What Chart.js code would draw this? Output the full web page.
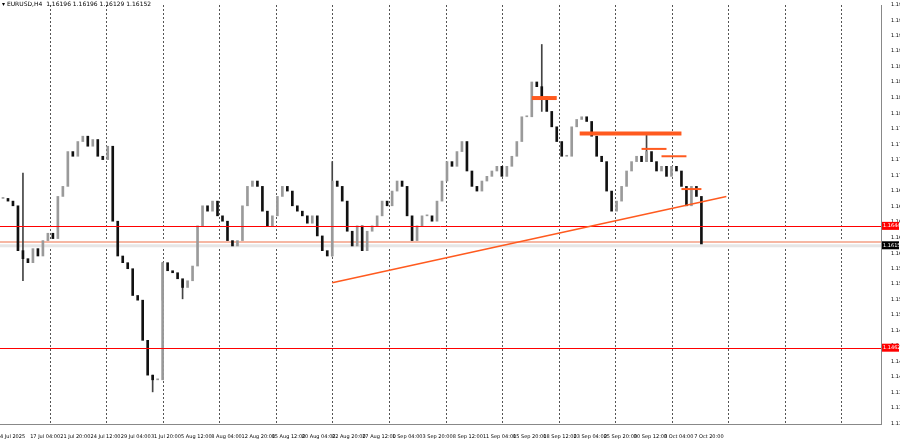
<!DOCTYPE html>
<html>
<head>
<meta charset="utf-8">
<script src="https://cdn.jsdelivr.net/npm/chart.js@4.4.1/dist/chart.umd.min.js"></script>
<style>
  html, body { margin: 0; padding: 0; background: #fff; }
  #wrap { position: relative; width: 900px; height: 441px; }
</style>
</head>
<body>
<div id="wrap"><canvas id="priceChart" width="900" height="441"></canvas></div>
<script>
// EURUSD H4 closes, sampled roughly every two bars
const closes = [
  1.1685, 1.1681, 1.1674, 1.1607, 1.1595, 1.1589, 1.1610, 1.1599, 1.1622, 1.1633,
  1.1625, 1.1688, 1.1703, 1.1755, 1.1748, 1.1770, 1.1778, 1.1763, 1.1773, 1.1748,
  1.1743, 1.1763, 1.1651, 1.1599, 1.1589, 1.1580, 1.1540, 1.1533, 1.1473, 1.1421,
  1.1414, 1.1414, 1.1589, 1.1577, 1.1574, 1.1565, 1.1552, 1.1562, 1.1584, 1.1644,
  1.1674, 1.1666, 1.1681, 1.1659, 1.1651, 1.1622, 1.1614, 1.1622, 1.1674, 1.1703,
  1.1711, 1.1703, 1.1666, 1.1644, 1.1659, 1.1688, 1.1703, 1.1696, 1.1674, 1.1666,
  1.1659, 1.1648, 1.1659, 1.1629, 1.1607, 1.1599, 1.1711, 1.1703, 1.1681, 1.1636,
  1.1614, 1.1644, 1.1607, 1.1636, 1.1644, 1.1659, 1.1681, 1.1674, 1.1696, 1.1711,
  1.1703, 1.1659, 1.1622, 1.1644, 1.1659, 1.1659, 1.1651, 1.1681, 1.1711, 1.1740,
  1.1733, 1.1755, 1.1770, 1.1726, 1.1703, 1.1696, 1.1711, 1.1718, 1.1726, 1.1733,
  1.1718, 1.1733, 1.1748, 1.1770, 1.1807, 1.1807, 1.1859, 1.1852, 1.1837, 1.1815,
  1.1792, 1.1770, 1.1748, 1.1748, 1.1792, 1.1803, 1.1807, 1.1800, 1.1778, 1.1748,
  1.1740, 1.1696, 1.1666, 1.1681, 1.1703, 1.1726, 1.1740, 1.1748, 1.1740, 1.1755,
  1.1740, 1.1726, 1.1733, 1.1718, 1.1733, 1.1726, 1.1703, 1.1674, 1.1703, 1.1688,
  1.1617
];

// notable wicks: [candle index, low, high]
const spikes = [
  [4, 1.1562, 1.1723], [30, 1.1396, 1.1421], [32, 1.1533, 1.1589], [36, 1.1535, 1.1562],
  [66, 1.1599, 1.1740], [108, 1.1815, 1.1915], [129, 1.1740, 1.1782]
];

const priceTicks = [1.1974, 1.1951, 1.1928, 1.1905, 1.1882, 1.1859, 1.1835, 1.1812, 1.1789,
  1.1766, 1.1743, 1.1719, 1.1696, 1.1673, 1.1650, 1.1627, 1.1603, 1.1580, 1.1557, 1.1534,
  1.1511, 1.1488, 1.1465, 1.1441, 1.1418, 1.1395, 1.1372, 1.1348];

const dateLabels = ["4 Jul 2025", "17 Jul 04:00", "21 Jul 20:00", "24 Jul 12:00", "29 Jul 04:00",
  "31 Jul 20:00", "5 Aug 12:00", "8 Aug 04:00", "12 Aug 20:00", "15 Aug 12:00", "20 Aug 04:00",
  "22 Aug 20:00", "27 Aug 12:00", "1 Sep 04:00", "3 Sep 20:00", "8 Sep 12:00", "11 Sep 04:00",
  "15 Sep 20:00", "18 Sep 12:00", "23 Sep 04:00", "25 Sep 20:00", "30 Sep 12:00", "3 Oct 04:00",
  "7 Oct 20:00"];

const levels = [1.1644, 1.1462];
const lastPrice = 1.1615;
const trendLine = [[66, 1.1559], [145, 1.1688]];
const resistanceMarks = [
  [[106, 1.1835], [111, 1.1835]],
  [[115.6, 1.1782], [136, 1.1782]],
  [[128, 1.1759], [133, 1.1759]],
  [[132, 1.1748], [137, 1.1748]],
  [[136, 1.1699], [140, 1.1699]]
];

// build candle bodies: open = previous close
const bodies = closes.map((c, i) => ({ x: i, y: [i === 0 ? c : closes[i - 1], c] }));
const bodyColors = closes.map((c, i) => (i > 0 && c < closes[i - 1]) ? "#111" : "#9a9a9a");
const wicks = spikes.map(s => ({ x: s[0], y: [s[1], s[2]] }));

const overlay = {
  id: "overlay",
  beforeDatasetsDraw(chart) {
    const { ctx, chartArea: a, scales: { x, y } } = chart;
    ctx.save();
    // weekly dashed separators
    ctx.strokeStyle = "#555";
    ctx.lineWidth = 1;
    ctx.setLineDash([2, 2]);
    for (let i = 9.4; i < 176; i += 11.33) {
      const px = Math.round(x.getPixelForValue(i)) + 0.5;
      ctx.beginPath(); ctx.moveTo(px, a.top); ctx.lineTo(px, a.bottom); ctx.stroke();
    }
    ctx.setLineDash([]);
    // last price band
    ctx.fillStyle = "#e6e6e6";
    ctx.fillRect(a.left, y.getPixelForValue(lastPrice) - 1, a.right - a.left, 3);
    ctx.strokeStyle = "#f6b7a3";
    ctx.lineWidth = 2;
    const lp = y.getPixelForValue(1.1620);
    ctx.beginPath(); ctx.moveTo(a.left, lp); ctx.lineTo(a.right, lp); ctx.stroke();
    ctx.restore();
  },
  afterDatasetsDraw(chart) {
    const { ctx, chartArea: a, scales: { x, y } } = chart;
    ctx.save();
    ctx.strokeStyle = "#f00";
    ctx.lineWidth = 1;
    levels.forEach(v => {
      const py = Math.round(y.getPixelForValue(v)) + 0.5;
      ctx.beginPath(); ctx.moveTo(a.left, py); ctx.lineTo(a.right, py); ctx.stroke();
    });
    // trend line
    ctx.strokeStyle = "#ff5a1f";
    ctx.lineWidth = 1.5;
    ctx.beginPath();
    ctx.moveTo(x.getPixelForValue(trendLine[0][0]), y.getPixelForValue(trendLine[0][1]));
    ctx.lineTo(x.getPixelForValue(trendLine[1][0]), y.getPixelForValue(trendLine[1][1]));
    ctx.stroke();
    resistanceMarks.forEach((m, k) => {
      ctx.lineWidth = k < 2 ? 4 : 2;
      ctx.beginPath();
      ctx.moveTo(x.getPixelForValue(m[0][0]), y.getPixelForValue(m[0][1]));
      ctx.lineTo(x.getPixelForValue(m[1][0]), y.getPixelForValue(m[1][1]));
      ctx.stroke();
    });
    // price tags on the axis
    ctx.font = "5px 'DejaVu Sans'";
    ctx.textBaseline = "middle";
    const tag = (v, bg) => {
      const py = y.getPixelForValue(v);
      ctx.fillStyle = bg;
      ctx.fillRect(a.right + 1, py - 4, 17, 8);
      ctx.fillStyle = "#fff";
      ctx.fillText(v.toFixed(4), a.right + 2, py);
    };
    levels.forEach(v => tag(v, "#f00"));
    tag(lastPrice, "#000");
    // header
    ctx.fillStyle = "#000";
    ctx.font = "6px 'DejaVu Sans'";
    ctx.fillText("\u25BE EURUSD,H4  1.16196 1.16196 1.16129 1.16152", 2, 4);
    ctx.restore();
  }
};

new Chart(document.getElementById("priceChart"), {
  type: "bar",
  data: {
    datasets: [
      { data: wicks, backgroundColor: "#444", barThickness: 1, grouped: false, order: 2 },
      { data: bodies, backgroundColor: bodyColors, barThickness: 2, minBarLength: 1, grouped: false, order: 1 }
    ]
  },
  options: {
    responsive: false,
    animation: false,
    layout: { padding: { top: 3, left: 0, right: 0, bottom: 0 } },
    plugins: { legend: { display: false }, tooltip: { enabled: false } },
    scales: {
      x: {
        type: "linear",
        min: -0.6,
        max: 176,
        offset: false,
        grid: { display: false, drawTicks: true },
        border: { color: "#888" },
        afterBuildTicks(s) { s.ticks = dateLabels.map((l, k) => ({ value: -0.6 + 6.05 * k })); },
        ticks: {
          autoSkip: false, maxRotation: 0, align: "start", font: { size: 5, family: "DejaVu Sans" }, color: "#000",
          padding: 2,
          callback: (v, k) => dateLabels[k]
        },
        afterFit(s) { s.height = 17; s.paddingLeft = 0; s.paddingRight = 0; }
      },
      y: {
        position: "right",
        min: 1.1348,
        max: 1.1974,
        grid: { display: false },
        border: { color: "#888" },
        afterBuildTicks(s) { s.ticks = priceTicks.map(v => ({ value: v })); },
        ticks: { font: { size: 5, family: "DejaVu Sans" }, color: "#000", padding: 2, callback: v => v.toFixed(4) },
        afterFit(s) { s.width = 19; }
      }
    }
  },
  plugins: [overlay]
});
</script>
</body>
</html>
